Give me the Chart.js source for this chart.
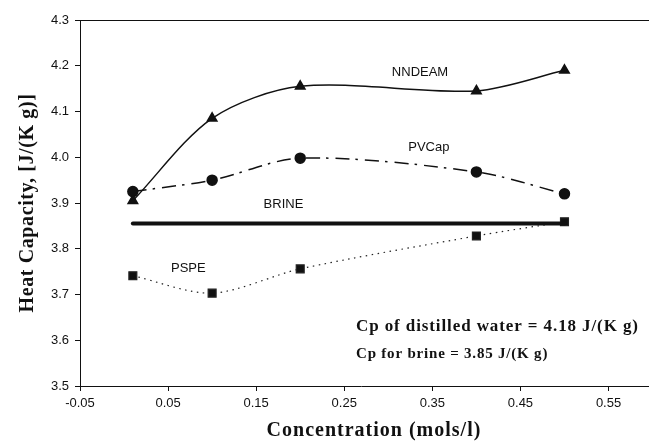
<!DOCTYPE html>
<html>
<head>
<meta charset="utf-8">
<script src="https://cdn.jsdelivr.net/npm/chart.js@4/dist/chart.umd.min.js"></script>
<style>
  html, body { margin: 0; padding: 0; background: #fff; }
  #wrap { width: 649px; height: 446px; }
</style>
</head>
<body>
<div id="wrap"><canvas id="heatChart" width="649" height="446"></canvas></div>
<script>
// concentration (mols/l) of each sample
const concentration = [0.01, 0.1, 0.2, 0.4, 0.5];
const nndeam = [3.905, 4.085, 4.155, 4.145, 4.19];
const pvcap = [3.925, 3.95, 3.998, 3.968, 3.92];
const pspe = [3.741, 3.703, 3.756, 3.828, 3.859];
const brineX = [0.01, 0.5];
const brine = [3.855, 3.855];

const xTicks = [-0.05, 0.05, 0.15, 0.25, 0.35, 0.45, 0.55];
const yTicks = [3.5, 3.6, 3.7, 3.8, 3.9, 4.0, 4.1, 4.2, 4.3];

const seriesNames = ['NNDEAM', 'PVCap', 'BRINE', 'PSPE'];
const noteLines = ['Cp of distilled water = 4.18 J/(K g)', 'Cp for brine = 3.85 J/(K g)'];
const xTitle = 'Concentration (mols/l)';
const yTitle = 'Heat Capacity, [J/(K g)]';

const toPoints = (xs, ys) => xs.map((x, i) => ({ x: x, y: ys[i] }));

// text labels placed in data coordinates
const seriesLabelPos = [[0.336, 4.186], [0.346, 4.022], [0.181, 3.896], [0.073, 3.758]];

const serifBold = '"Liberation Serif", "Times New Roman", serif';

const extrasPlugin = {
    id: 'extras',
    afterDraw(chart) {
        const ctx = chart.ctx;
        const area = chart.chartArea;
        const xs = chart.scales.x;
        const ys = chart.scales.y;
        ctx.save();
        // top frame line and bottom axis run to the right edge
        ctx.strokeStyle = '#111';
        ctx.lineWidth = 1;
        ctx.beginPath();
        ctx.moveTo(area.left - 5, area.top + 0.5);
        ctx.lineTo(chart.width, area.top + 0.5);
        ctx.moveTo(area.right - 1, area.bottom + 0.5);
        ctx.lineTo(chart.width, area.bottom + 0.5);
        ctx.stroke();

        ctx.fillStyle = '#111';
        ctx.textAlign = 'center';
        ctx.textBaseline = 'middle';
        ctx.font = '13px "Liberation Sans", Arial, sans-serif';
        seriesNames.forEach((name, i) => {
            const p = seriesLabelPos[i];
            ctx.fillText(name, xs.getPixelForValue(p[0]), ys.getPixelForValue(p[1]));
        });

        // axis titles
        ctx.font = 'bold 20px ' + serifBold;
        ctx.letterSpacing = '1px';
        ctx.fillText(xTitle, 374, 431);
        ctx.save();
        ctx.translate(28, (area.top + area.bottom) / 2);
        ctx.rotate(-Math.PI / 2);
        ctx.letterSpacing = '0.6px';
        ctx.fillText(yTitle, 0, 0);
        ctx.restore();

        ctx.textAlign = 'left';
        ctx.font = 'bold 17px ' + serifBold;
        ctx.letterSpacing = '0.9px';
        ctx.fillText(noteLines[0], 356, 327);
        ctx.font = 'bold 15px ' + serifBold;
        ctx.letterSpacing = '0.8px';
        ctx.fillText(noteLines[1], 356, 354);
        ctx.restore();
    }
};

const ctx = document.getElementById('heatChart').getContext('2d');

new Chart(ctx, {
    type: 'line',
    data: {
        datasets: [
            {
                label: 'NNDEAM',
                data: toPoints(concentration, nndeam),
                borderColor: '#111',
                backgroundColor: '#111',
                borderWidth: 1.5,
                tension: 0.3,
                pointStyle: 'triangle',
                pointRadius: 5.5
            },
            {
                label: 'PVCap',
                data: toPoints(concentration, pvcap),
                borderColor: '#111',
                backgroundColor: '#111',
                borderWidth: 1.5,
                borderDash: [14, 6, 2.5, 7],
                tension: 0.3,
                pointStyle: 'circle',
                pointRadius: 5
            },
            {
                label: 'BRINE',
                data: toPoints(brineX, brine),
                borderColor: '#111',
                borderWidth: 4,
                pointRadius: 0,
                borderCapStyle: 'round'
            },
            {
                label: 'PSPE',
                data: toPoints(concentration, pspe),
                borderColor: '#222',
                backgroundColor: '#111',
                borderWidth: 1.2,
                borderDash: [1.5, 4.5],
                tension: 0.3,
                pointStyle: 'rect',
                pointRadius: 5.6
            }
        ]
    },
    options: {
        responsive: false,
        animation: false,
        layout: { padding: { top: 20, right: 0, left: 0, bottom: 0 } },
        plugins: {
            legend: { display: false },
            tooltip: { enabled: false }
        },
        elements: { point: { borderWidth: 0 } },
        scales: {
            x: {
                type: 'linear',
                min: -0.05,
                max: 0.588,
                afterBuildTicks: scale => { scale.ticks = xTicks.map(v => ({ value: v })); },
                afterFit: scale => { scale.height = 60; },
                grid: { drawOnChartArea: false, drawTicks: true, tickLength: 5, color: '#111' },
                border: { display: true, color: '#111', width: 1 },
                ticks: {
                    color: '#111',
                    padding: 5,
                    maxRotation: 0,
                    font: { family: '"Liberation Sans", Arial, sans-serif', size: 13 },
                    callback: v => v.toFixed(2)
                }
            },
            y: {
                min: 3.5,
                max: 4.3,
                afterBuildTicks: scale => { scale.ticks = yTicks.map(v => ({ value: v })); },
                afterFit: scale => { scale.width = 80; },
                grid: { drawOnChartArea: false, drawTicks: true, tickLength: 5, color: '#111' },
                border: { display: true, color: '#111', width: 1 },
                ticks: {
                    color: '#111',
                    padding: 6,
                    font: { family: '"Liberation Sans", Arial, sans-serif', size: 13 },
                    callback: v => v.toFixed(1)
                }
            }
        }
    },
    plugins: [extrasPlugin]
});
</script>
</body>
</html>
